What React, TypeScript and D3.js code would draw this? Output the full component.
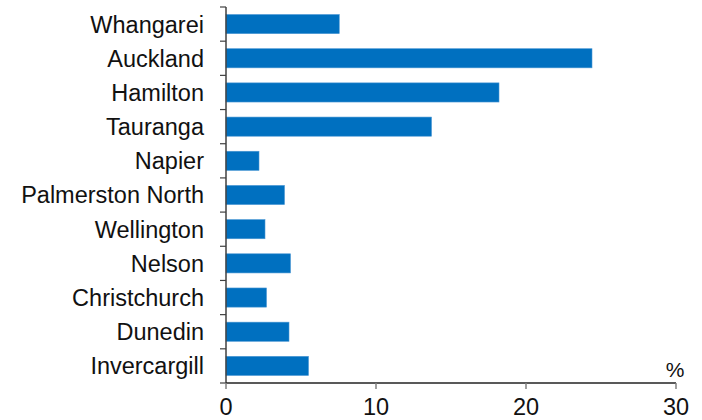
import React from "react";
import * as d3 from "d3";

const cities = [
  "Whangarei",
  "Auckland",
  "Hamilton",
  "Tauranga",
  "Napier",
  "Palmerston North",
  "Wellington",
  "Nelson",
  "Christchurch",
  "Dunedin",
  "Invercargill",
];
const values = [7.55, 24.4, 18.2, 13.7, 2.2, 3.9, 2.6, 4.3, 2.7, 4.2, 5.5];
const xTicks = [0, 10, 20, 30];
const unitLabel = "%";

export default function App() {
  const W = 702;
  const H = 420;
  const x = d3.scaleLinear().domain([0, 30]).range([226, 676]);
  const y = d3
    .scaleBand<string>()
    .domain(cities)
    .range([7, 383])
    .paddingInner(0.44)
    .paddingOuter(0.22);
  const step = y.step();
  const font = "'Liberation Sans', Arial, sans-serif";
  const axisY = 383;
  return (
    <svg
      width={W}
      height={H}
      style={{ position: "absolute", left: 0, top: 0, background: "#fff" }}
      fontFamily={font}
    >
      {cities.map((c, i) => (
        <rect
          key={c}
          x={x(0)}
          y={y(c)!}
          width={x(values[i]) - x(0)}
          height={y.bandwidth()}
          fill="#0070C0"
          stroke="#4a97d4"
          strokeWidth={0.6}
        />
      ))}
      {/* y axis */}
      <line x1={x(0)} x2={x(0)} y1={7} y2={axisY} stroke="#404040" strokeWidth={1.5} />
      {d3.range(cities.length + 1).map((i) => (
        <line
          key={"yt" + i}
          x1={x(0) - 6}
          x2={x(0)}
          y1={7 + i * step}
          y2={7 + i * step}
          stroke="#404040"
          strokeWidth={1.2}
        />
      ))}
      {cities.map((c) => (
        <text
          key={"l" + c}
          x={204}
          y={y(c)! + y.bandwidth() / 2}
          dy="0.36em"
          textAnchor="end"
          fontSize={23.5}
          fill="#111"
        >
          {c}
        </text>
      ))}
      {/* x axis */}
      <line x1={x(0)} x2={x(30)} y1={axisY} y2={axisY} stroke="#222" strokeWidth={1.5} />
      {xTicks.map((t) => (
        <g key={"xt" + t}>
          <line x1={x(t)} x2={x(t)} y1={axisY} y2={axisY + 6} stroke="#808080" strokeWidth={1.5} />
          <text x={x(t)} y={415} textAnchor="middle" fontSize={23.5} fill="#111">
            {t}
          </text>
        </g>
      ))}
      <text x={x(30) - 1} y={377} textAnchor="middle" fontSize={21} fill="#111">
        {unitLabel}
      </text>
    </svg>
  );
}
